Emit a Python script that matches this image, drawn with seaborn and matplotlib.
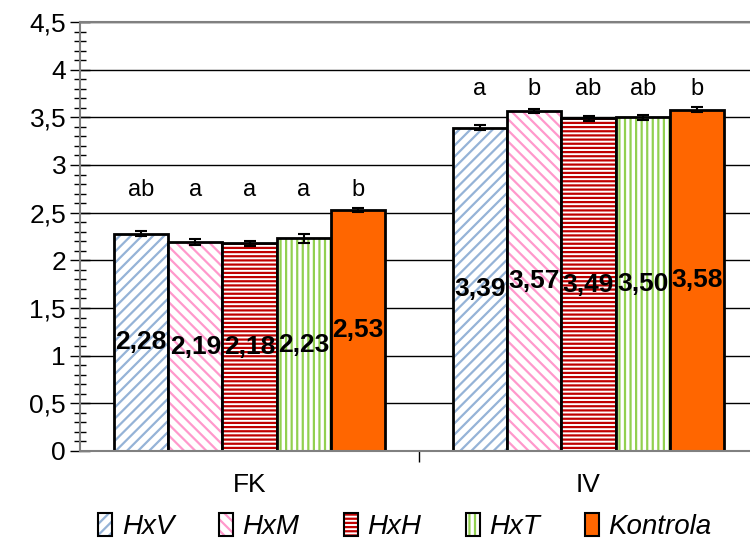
import numpy as np
import pandas as pd
import seaborn as sns
import matplotlib
matplotlib.use("Agg")
from matplotlib import pyplot as plt
from matplotlib.colors import to_rgba
from matplotlib.patches import Patch
from matplotlib.ticker import MultipleLocator, FuncFormatter, FixedLocator, NullFormatter

# Данные
groups = ['FK', 'IV']
variants = ['HxV', 'HxM', 'HxH', 'HxT', 'Kontrola']
fk_means = [2.28, 2.19, 2.18, 2.23, 2.53]
iv_means = [3.39, 3.57, 3.49, 3.50, 3.58]
fk_err = [0.025, 0.03, 0.025, 0.045, 0.02]
iv_err = [0.025, 0.02, 0.025, 0.025, 0.025]
fk_letters = ['ab', 'a', 'a', 'a', 'b']
iv_letters = ['a', 'b', 'ab', 'ab', 'b']

# Стиль столбцов
hatch_colors = ['#95B3D7', '#FF99CC', '#C00000', '#92D050', '#FF6600']
hatches = ['///', '\\\\\\', '----', '|||', '']
faces = ['white', 'white', 'white', 'white', '#FF6600']

sns.set_style('white')
plt.rcParams['font.family'] = ['Liberation Sans', 'DejaVu Sans']
plt.rcParams['text.color'] = 'black'
plt.rcParams['xtick.labelcolor'] = 'black'
plt.rcParams['ytick.labelcolor'] = 'black'
plt.rcParams['hatch.linewidth'] = 1.6

df = pd.DataFrame({
    'group': np.repeat(groups, len(variants)),
    'variant': variants * len(groups),
    'value': fk_means + iv_means,
    'err': fk_err + iv_err,
    'letter': fk_letters + iv_letters,
})

fig = plt.figure(figsize=(7.5, 5.43), dpi=100)
ax = fig.add_axes([80 / 750, 1 - 451 / 543, 678 / 750, 429 / 543])

sns.barplot(data=df, x='group', y='value', hue='variant', order=groups,
            hue_order=variants, errorbar=None, width=0.8, legend=False,
            saturation=1, ax=ax)

def set_bar_style(p, i):
    p.set_facecolor(faces[i])
    p.set_edgecolor('black')
    p.set_linewidth(2)
    p.set_hatch(hatches[i])
    p._hatch_color = to_rgba(hatch_colors[i])

bar_containers = list(ax.containers)
for i, cont in enumerate(bar_containers):
    sub = df[df['variant'] == variants[i]].set_index('group').loc[groups]
    for p, (_, row) in zip(cont.patches, sub.iterrows()):
        set_bar_style(p, i)
        cx = p.get_x() + p.get_width() / 2
        h = p.get_height()
        ax.errorbar(cx, h, yerr=row['err'], color='black', capsize=4,
                    elinewidth=1.5, capthick=1.5, zorder=5)
        ax.text(cx, h / 2, f"{row['value']:.2f}".replace('.', ','),
                ha='center', va='center', fontsize=19, fontweight='bold',
                zorder=6)
        top = df.loc[df['group'] == row.name, 'value'].max()
        ax.text(cx, top + 0.15, row['letter'], ha='center', va='baseline',
                fontsize=17, zorder=6)

# Оси
ax.set_ylim(0, 4.5)
ax.set_xlim(-0.5, 1.5)
ax.yaxis.set_major_locator(MultipleLocator(0.5))
ax.yaxis.set_minor_locator(MultipleLocator(0.1))
ax.yaxis.set_major_formatter(FuncFormatter(lambda v, _: f"{v:g}".replace('.', ',')))
ax.tick_params(axis='y', which='major', direction='inout', length=14, width=1,
               labelsize=19, color='black', left=True, pad=3)
ax.tick_params(axis='y', which='minor', direction='inout', length=8, width=1,
               color='black', left=True)
ax.xaxis.set_minor_locator(FixedLocator([0.5]))
ax.xaxis.set_minor_formatter(NullFormatter())
ax.tick_params(axis='x', which='major', length=0, labelsize=19, pad=16)
ax.tick_params(axis='x', which='minor', direction='out', length=8, width=1,
               color='black', bottom=True)
ax.set_xlabel('')
ax.set_ylabel('')

ax.grid(axis='y', which='major', color='black', linewidth=1)
ax.set_axisbelow(True)
for s in ['left', 'bottom', 'top']:
    ax.spines[s].set_color('#808080')
    ax.spines[s].set_linewidth(1.5)
ax.spines['right'].set_visible(False)

# Легенда
handles = [Patch(facecolor=faces[i], edgecolor='black', linewidth=1.5,
                 hatch=hatches[i], label=v) for i, v in enumerate(variants)]
leg = fig.legend(handles=handles, loc='lower center', ncol=5, frameon=False,
                 bbox_to_anchor=(405 / 750, -0.04), prop={'size': 20, 'style': 'italic'},
                 handlelength=0.5, handleheight=0.9, handletextpad=0.35,
                 columnspacing=1.6)
for i, p in enumerate(leg.get_patches()):
    p._hatch_color = to_rgba(hatch_colors[i])

fig.savefig('out.png', dpi=100)
